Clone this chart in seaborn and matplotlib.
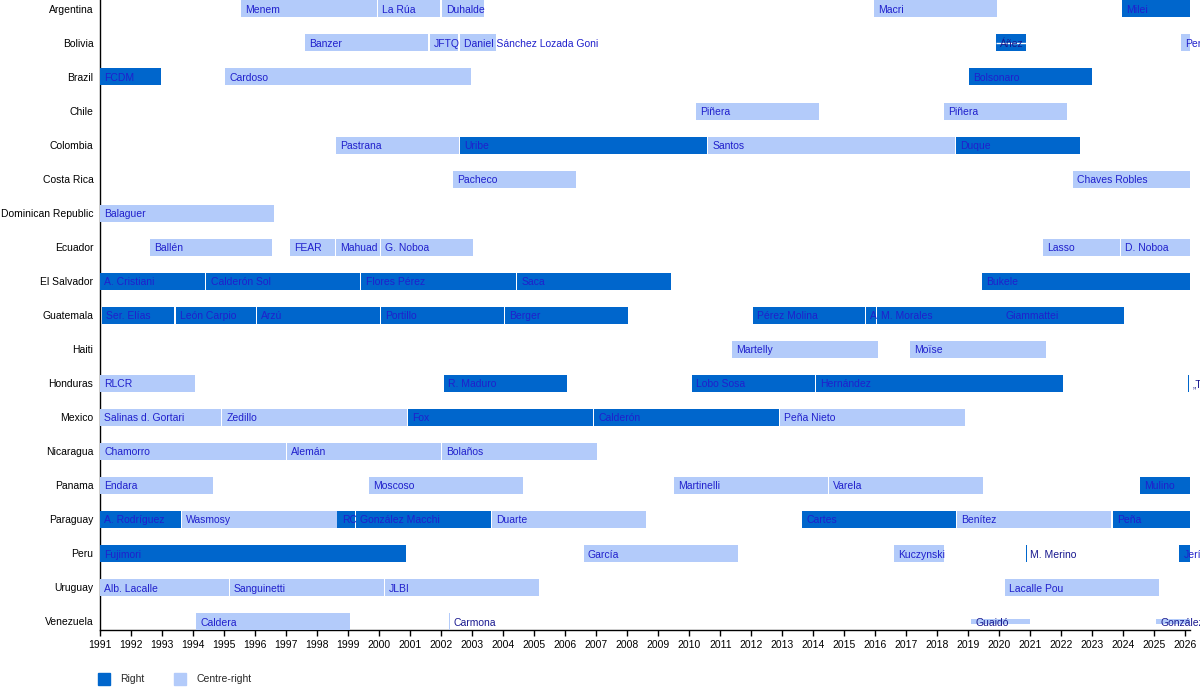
import pandas as pd
import matplotlib.pyplot as plt
import matplotlib.patches as mpatches
import seaborn as sns

# rows, top to bottom
countries = ["Argentina", "Bolivia", "Brazil", "Chile", "Colombia", "Costa Rica",
             "Dominican Republic", "Ecuador", "El Salvador", "Guatemala", "Haiti",
             "Honduras", "Mexico", "Nicaragua", "Panama", "Paraguay", "Peru",
             "Uruguay", "Venezuela"]

# one line per country in each list
pres_country = (
    ["Argentina"] * 5 + ["Bolivia"] * 5 + ["Brazil"] * 3 + ["Chile"] * 2
    + ["Colombia"] * 4 + ["Costa Rica"] * 2 + ["Dominican Republic"] * 1
    + ["Ecuador"] * 6 + ["El Salvador"] * 5 + ["Guatemala"] * 9 + ["Haiti"] * 2
    + ["Honduras"] * 5 + ["Mexico"] * 5 + ["Nicaragua"] * 3 + ["Panama"] * 5
    + ["Paraguay"] * 8 + ["Peru"] * 5 + ["Uruguay"] * 4 + ["Venezuela"] * 4
)
pres_name = [
    "Menem", "La Rúa", "Duhalde", "Macri", "Milei",
    "Banzer", "JFTQ", "Daniel Sánchez Lozada Goni", "Áñez", "Pereira",
    "FCDM", "Cardoso", "Bolsonaro",
    "Piñera", "Piñera",
    "Pastrana", "Uribe", "Santos", "Duque",
    "Pacheco", "Chaves Robles",
    "Balaguer",
    "Ballén", "FEAR", "Mahuad", "G. Noboa", "Lasso", "D. Noboa",
    "A. Cristiani", "Calderón Sol", "Flores Pérez", "Saca", "Bukele",
    "Ser. Elías", "León Carpio", "Arzú", "Portillo", "Berger", "Pérez Molina", "A", "M. Morales", "Giammattei",
    "Martelly", "Moïse",
    "RLCR", "R. Maduro", "Lobo Sosa", "Hernández", "„T",
    "Salinas d. Gortari", "Zedillo", "Fox", "Calderón", "Peña Nieto",
    "Chamorro", "Alemán", "Bolaños",
    "Endara", "Moscoso", "Martinelli", "Varela", "Mulino",
    "A. Rodríguez", "Wasmosy", "RC", "González Macchi", "Duarte", "Cartes", "Benítez", "Peña",
    "Fujimori", "García", "Kuczynski", "M. Merino", "Jerí",
    "Alb. Lacalle", "Sanguinetti", "JLBI", "Lacalle Pou",
    "Caldera", "Carmona", "Guaidó", "González",
]
pres_start = [
    1995.54, 1999.96, 2002.02, 2015.96, 2023.95,
    1997.60, 2001.62, 2002.60, 2019.89, 2025.87,
    1991.00, 1995.02, 2019.02,
    2010.21, 2018.21,
    1998.60, 2002.60, 2010.60, 2018.60,
    2002.38, 2022.37,
    1991.00,
    1992.60, 1997.12, 1998.60, 2000.06, 2021.41, 2023.93,
    1991.00, 1994.42, 1999.42, 2004.44, 2019.44,
    1991.05, 1993.44, 1996.06, 2000.06, 2004.06, 2012.06, 2015.70, 2016.05, 2020.06,
    2011.38, 2017.12,
    1991.00, 2002.09, 2010.08, 2014.08, 2026.09,
    1991.00, 1994.93, 2000.93, 2006.93, 2012.93,
    1991.00, 1997.02, 2002.02,
    1991.00, 1999.67, 2009.50, 2014.50, 2024.54,
    1991.00, 1993.64, 1998.65, 1999.25, 2003.64, 2013.63, 2018.64, 2023.65,
    1991.00, 2006.59, 2016.60, 2020.86, 2025.80,
    1991.00, 1995.18, 2000.18, 2020.18,
    1994.09, 2002.25, 2019.09, 2025.05,
]
pres_end = [
    1999.93, 2001.96, 2003.38, 2019.91, 2026.15,
    2001.57, 2002.55, 2003.75, 2020.85, 2026.15,
    1992.95, 2002.97, 2022.98,
    2014.17, 2022.17,
    2002.56, 2010.57, 2018.57, 2022.60,
    2006.35, 2026.15,
    1996.60,
    1996.55, 1998.57, 2000.02, 2003.02, 2023.88, 2026.15,
    1994.38, 1999.38, 2004.41, 2009.40, 2026.15,
    1993.39, 1996.01, 2000.02, 2004.01, 2008.01, 2015.67, 2016.01, 2020.04, 2024.01,
    2016.10, 2021.50,
    1994.06, 2006.05, 2014.05, 2022.05, 2026.13,
    1994.90, 2000.89, 2006.90, 2012.88, 2018.88,
    1996.99, 2001.99, 2007.01,
    1994.63, 2004.64, 2014.46, 2019.46, 2026.15,
    1993.60, 1998.62, 1999.21, 2003.60, 2008.60, 2018.60, 2023.61, 2026.15,
    2000.85, 2011.57, 2018.21, 2020.90, 2026.15,
    1995.15, 2000.15, 2005.15, 2025.14,
    1999.05, 2002.29, 2020.99, 2026.15,
]
R, C = "Right", "Centre-right"
pres_lean = [
    C, C, C, C, R,
    C, C, C, R, C,
    R, C, R,
    C, C,
    C, R, C, R,
    C, C,
    C,
    C, C, C, C, C, C,
    R, R, R, R, R,
    R, R, R, R, R, R, R, R, R,
    C, C,
    C, R, R, R, R,
    C, C, R, R, C,
    C, C, C,
    C, C, C, C, R,
    R, C, R, R, C, R, C, R,
    R, C, C, R, R,
    C, C, C, C,
    C, C, C, C,
]

low_bars = ["Guaidó", "González"]
striped = ["Áñez"]

df = pd.DataFrame({"country": pres_country, "name": pres_name,
                   "start": pres_start, "end": pres_end, "lean": pres_lean})
df["row"] = df["country"].map({c: i for i, c in enumerate(countries)})
df["width"] = df["end"] - df["start"]

palette = {R: "#0066cc", C: "#b3cbfa"}

sns.set_theme(style="white")
plt.rcParams["font.family"] = ["Liberation Sans", "DejaVu Sans"]

fig = plt.figure(figsize=(12, 6.9), dpi=100)
ax = fig.add_axes([0.0836, 0.087, 0.9081, 0.9124])

for i, r in enumerate(df.itertuples()):
    h = 0.14 if r.name in low_bars else 0.5
    z = 2 + 3 * i
    ax.barh(r.row, r.width, left=r.start, height=h, color=palette[r.lean],
            linewidth=0, zorder=z)
    if r.name in striped:
        ax.hlines(r.row, r.start, r.end, color="white", lw=1, zorder=z + 1)
    small = r.width < 0.1 or r.name in low_bars or r.name in striped
    ax.annotate(r.name, (r.start, r.row), xytext=(3, -0.8), textcoords="offset points",
                ha="left", va="center", fontsize=7.5,
                color="#18188f" if small else "#2020cc", zorder=z + 2,
                annotation_clip=False)

ax.set_xlim(1991, 2026.15)
ax.set_ylim(len(countries) - 0.75, -0.25)
ax.set_yticks(range(len(countries)))
ax.set_yticklabels(countries, fontsize=7.5)
years = list(range(1991, 2027))
ax.set_xticks(years)
ax.set_xticklabels([str(y) for y in years], fontsize=7.5)
ax.tick_params(axis="y", length=0, pad=5, colors="black")
ax.tick_params(axis="x", direction="out", length=4, width=1, color="black",
               labelcolor="black", pad=3, bottom=True)
sns.despine(ax=ax)
for side in ["left", "bottom"]:
    ax.spines[side].set_color("black")
    ax.spines[side].set_linewidth(1)
ax.grid(False)

handles = [mpatches.Patch(color=palette[R], label=R),
           mpatches.Patch(color=palette[C], label=C)]
fig.legend(handles=handles, loc="center left", bbox_to_anchor=(0.0817, 0.016),
           ncol=2, frameon=False, fontsize=7.5, handlelength=1.15, handleheight=1.35,
           handletextpad=0.95, columnspacing=2.9, borderpad=0, borderaxespad=0)

fig.savefig("out.png", dpi=100)
